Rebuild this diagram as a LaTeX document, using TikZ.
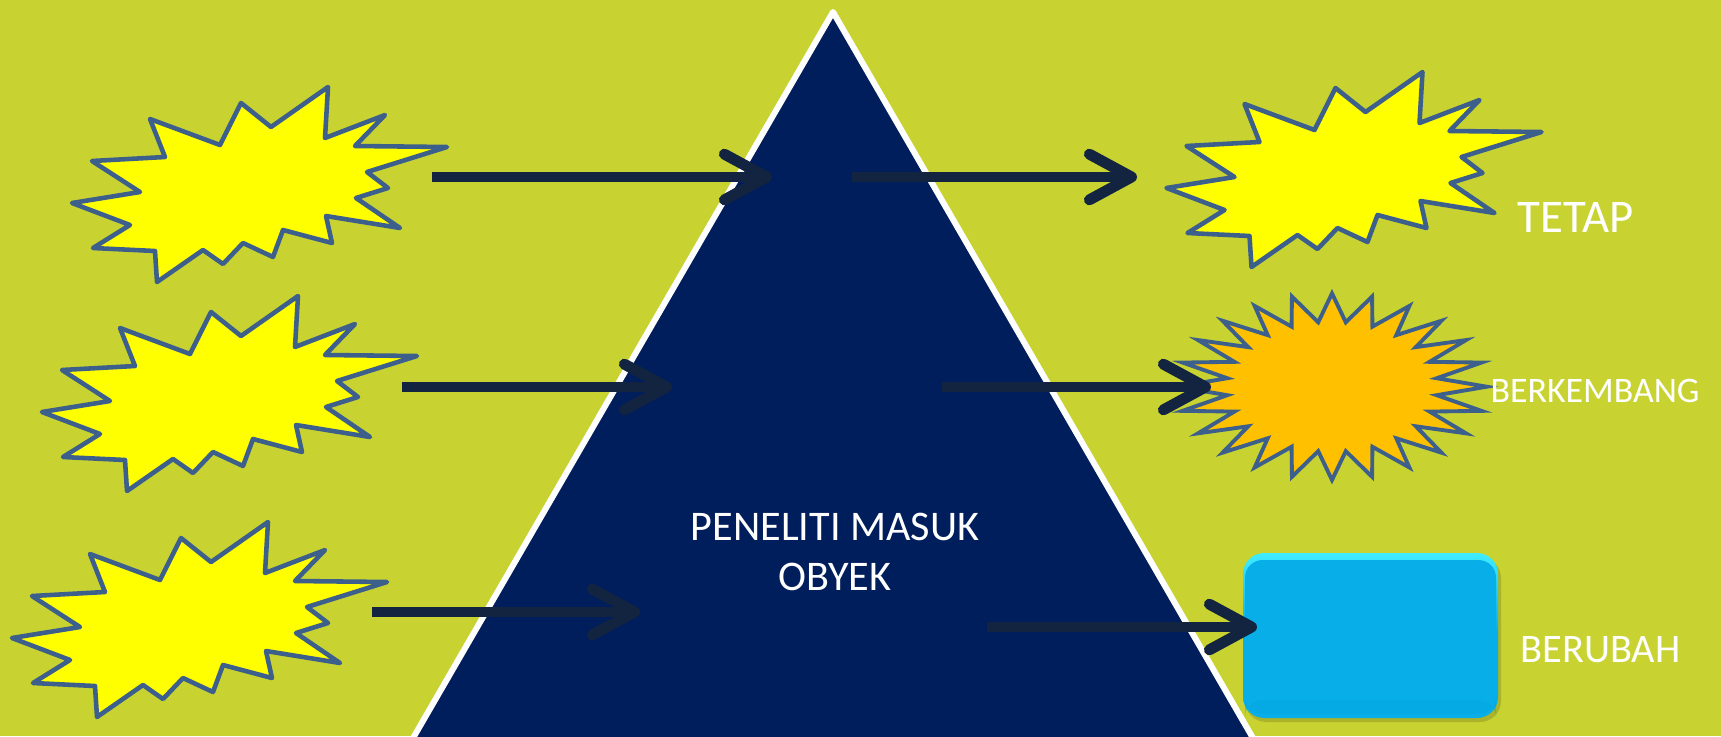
\documentclass[tikz,border=0pt]{standalone}
\usepackage{fontspec}
\setmainfont{Carlito}
\usetikzlibrary{arrows.meta}

\definecolor{latar}{RGB}{200,211,50}
\definecolor{navy}{RGB}{0,30,92}
\definecolor{panah}{RGB}{18,36,64}
\definecolor{garis}{RGB}{60,95,140}
\definecolor{kuning}{RGB}{255,255,0}
\definecolor{jingga}{RGB}{255,192,0}
\definecolor{biru}{RGB}{8,174,232}
\definecolor{birumuda}{RGB}{64,236,255}
\definecolor{birutua}{RGB}{0,160,222}

\begin{document}
\begin{tikzpicture}[x=0.01cm, y=-0.01cm]
    \tikzset{
        panahtebal/.style={
            draw=panah, line width=3.1pt,
            -{Straight Barb[length=12pt, width=13pt, round]},
        },
        ledakan/.pic={
            \draw[garis, line width=1.3pt, line join=round, fill=kuning]
                (69,-97) -- (66,-46) -- (126,-69) -- (96,-38) -- (188,-37)
                -- (108,-12) -- (129,4) -- (97,14) -- (141,44) -- (67,32)
                -- (73,59) -- (24,46) -- (14,73) -- (-16,59) -- (-36,80)
                -- (-56,66) -- (-102,98) -- (-104,67) -- (-166,64) -- (-129,41)
                -- (-187,19) -- (-119,8) -- (-167,-23) -- (-94,-27) -- (-109,-65)
                -- (-39,-39) -- (-18,-81) -- (12,-57) -- cycle;
        },
        teks/.style={text=white, anchor=base, inner sep=0pt},
    }

    % Background
    \fill[latar] (0,0) rectangle (1721,736);
    \clip (0,0) rectangle (1721,736);

    % Triangle
    \draw[white, line width=1.7pt, fill=navy, line join=round]
        (833,12) -- (1261,752) -- (405,752) -- cycle;

    % Sources on the left
    \pic at (259,184) {ledakan};
    \pic at (229,393) {ledakan};
    \pic at (199,619) {ledakan};

    % Results on the right
    \pic at (1353.5,169) {ledakan};
    \draw[garis, line width=1.1pt, fill=jingga, line join=miter]
        (1332,386.7) +(90:154.8 and 93.3)
        \foreach \k [evaluate=\k as \rx using {mod(\k,2)==0 ? 154.8 : 105.6},
                     evaluate=\k as \ry using {mod(\k,2)==0 ? 93.3 : 65}]
            in {1,...,47} { -- +({90+7.5*\k}:{\rx} and {\ry}) } -- cycle;
    \fill[black, opacity=0.15, rounded corners=6pt] (1245,557) rectangle (1501,722);
    \shade[top color=birumuda, bottom color=biru, middle color=biru, rounded corners=6pt]
        (1243,553) rectangle (1498,718);
    \fill[biru, rounded corners=5pt] (1245,560) rectangle (1496,714);
    \fill[birutua, opacity=0.35, rounded corners=5pt] (1245,700) rectangle (1496,714);

    % Arrow ends
    \coordinate (s1) at (432,177);  \coordinate (e1) at (772,177);
    \coordinate (s2) at (852,177);  \coordinate (e2) at (1137,177);
    \coordinate (s3) at (402,387);  \coordinate (e3) at (672,387);
    \coordinate (s4) at (942,387);  \coordinate (e4) at (1211,387);
    \coordinate (s5) at (372,612);  \coordinate (e5) at (640,612);
    \coordinate (s6) at (987,627);  \coordinate (e6) at (1257,627);

    % Arrows
    \foreach \i in {1,...,6} {
        \draw[panahtebal] (s\i) -- (e\i);
    }

    % Labels
    \node[teks, font=\fontsize{13.3}{15}\selectfont] (tetap) at (1575.5,232) {TETAP};
    \node[teks, font=\fontsize{10.2}{12}\selectfont] (berkembang) at (1595,402) {BERKEMBANG};
    \node[teks, font=\fontsize{11.5}{13}\selectfont] (berubah) at (1600.5,662) {BERUBAH};
    \node[teks, font=\fontsize{12}{14}\selectfont] (peneliti) at (835,540) {PENELITI MASUK};
    \node[teks, font=\fontsize{12}{14}\selectfont] (obyek) at (835,590) {OBYEK};
\end{tikzpicture}
\end{document}
